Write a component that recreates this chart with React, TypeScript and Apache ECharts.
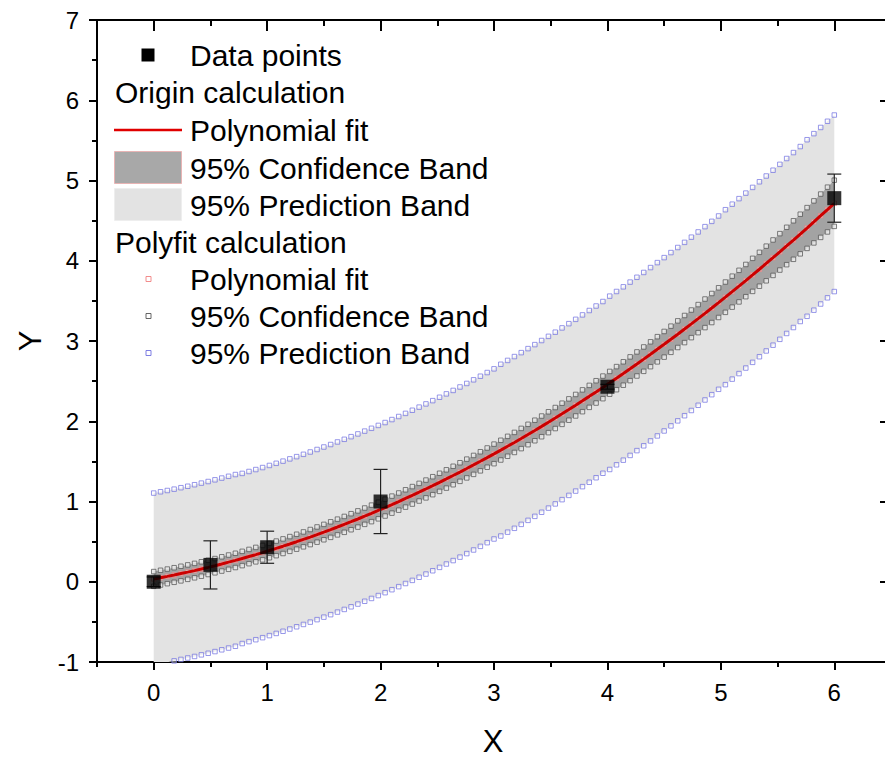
import React, { useEffect, useRef } from "react";
import * as echarts from "echarts";

// ---- measured data points ----
const DATA_X = [0, 0.5, 1, 2, 4, 6];
const DATA_Y = [0, 0.21, 0.43, 1.0, 2.43, 4.78];
const DATA_ERR = [0.06, 0.3, 0.2, 0.4, 0.03, 0.3];

// ---- fit curve grid ----
const X = [
  0, 0.06, 0.12, 0.18, 0.24, 0.3, 0.36, 0.42, 0.48, 0.54,
  0.6, 0.66, 0.72, 0.78, 0.84, 0.9, 0.96, 1.02, 1.08, 1.14,
  1.2, 1.26, 1.32, 1.38, 1.44, 1.5, 1.56, 1.62, 1.68, 1.74,
  1.8, 1.86, 1.92, 1.98, 2.04, 2.1, 2.16, 2.22, 2.28, 2.34,
  2.4, 2.46, 2.52, 2.58, 2.64, 2.7, 2.76, 2.82, 2.88, 2.94,
  3, 3.06, 3.12, 3.18, 3.24, 3.3, 3.36, 3.42, 3.48, 3.54,
  3.6, 3.66, 3.72, 3.78, 3.84, 3.9, 3.96, 4.02, 4.08, 4.14,
  4.2, 4.26, 4.32, 4.38, 4.44, 4.5, 4.56, 4.62, 4.68, 4.74,
  4.8, 4.86, 4.92, 4.98, 5.04, 5.1, 5.16, 5.22, 5.28, 5.34,
  5.4, 5.46, 5.52, 5.58, 5.64, 5.7, 5.76, 5.82, 5.88, 5.94,
  6,
];
const FIT = [
  0.035, 0.051, 0.067, 0.084, 0.102, 0.12, 0.139, 0.159, 0.179, 0.2,
  0.222, 0.244, 0.266, 0.29, 0.314, 0.338, 0.363, 0.389, 0.416, 0.443,
  0.471, 0.499, 0.528, 0.557, 0.588, 0.619, 0.65, 0.682, 0.715, 0.748,
  0.782, 0.817, 0.852, 0.888, 0.924, 0.961, 0.999, 1.038, 1.077, 1.116,
  1.156, 1.197, 1.239, 1.281, 1.324, 1.367, 1.411, 1.456, 1.501, 1.547,
  1.593, 1.64, 1.688, 1.736, 1.785, 1.835, 1.885, 1.936, 1.988, 2.04,
  2.093, 2.146, 2.2, 2.255, 2.31, 2.366, 2.422, 2.479, 2.537, 2.595,
  2.654, 2.714, 2.774, 2.835, 2.897, 2.959, 3.022, 3.085, 3.149, 3.214,
  3.279, 3.345, 3.411, 3.478, 3.546, 3.615, 3.684, 3.753, 3.824, 3.894,
  3.966, 4.038, 4.111, 4.184, 4.258, 4.333, 4.408, 4.484, 4.561, 4.638,
  4.716,
];
const CONF_HALF = [
  0.092, 0.092, 0.091, 0.091, 0.091, 0.09, 0.09, 0.09, 0.089, 0.089,
  0.089, 0.089, 0.089, 0.089, 0.089, 0.09, 0.09, 0.09, 0.091, 0.091,
  0.092, 0.093, 0.093, 0.094, 0.095, 0.096, 0.097, 0.098, 0.099, 0.1,
  0.101, 0.102, 0.103, 0.104, 0.105, 0.106, 0.107, 0.108, 0.109, 0.11,
  0.111, 0.112, 0.113, 0.114, 0.115, 0.116, 0.117, 0.118, 0.119, 0.12,
  0.122, 0.123, 0.124, 0.125, 0.126, 0.127, 0.128, 0.129, 0.13, 0.131,
  0.132, 0.133, 0.134, 0.136, 0.137, 0.139, 0.141, 0.142, 0.144, 0.146,
  0.148, 0.15, 0.152, 0.155, 0.157, 0.16, 0.163, 0.166, 0.169, 0.172,
  0.175, 0.178, 0.181, 0.185, 0.189, 0.193, 0.197, 0.201, 0.206, 0.211,
  0.216, 0.221, 0.227, 0.233, 0.24, 0.247, 0.254, 0.262, 0.27, 0.279,
  0.288,
];
const PRED_HALF = [
  1.07, 1.07, 1.07, 1.07, 1.07, 1.07, 1.07, 1.07, 1.07, 1.07,
  1.07, 1.07, 1.07, 1.06, 1.06, 1.06, 1.06, 1.06, 1.06, 1.06,
  1.06, 1.06, 1.06, 1.06, 1.06, 1.06, 1.06, 1.06, 1.06, 1.06,
  1.06, 1.06, 1.06, 1.06, 1.06, 1.06, 1.06, 1.06, 1.06, 1.06,
  1.06, 1.06, 1.06, 1.06, 1.06, 1.06, 1.06, 1.06, 1.06, 1.06,
  1.06, 1.07, 1.07, 1.07, 1.07, 1.07, 1.07, 1.07, 1.07, 1.07,
  1.07, 1.07, 1.07, 1.07, 1.07, 1.07, 1.07, 1.08, 1.08, 1.08,
  1.08, 1.08, 1.08, 1.08, 1.08, 1.08, 1.08, 1.08, 1.08, 1.08,
  1.08, 1.08, 1.08, 1.08, 1.09, 1.09, 1.09, 1.09, 1.09, 1.09,
  1.09, 1.09, 1.09, 1.09, 1.09, 1.09, 1.1, 1.1, 1.1, 1.1,
  1.1,
];

const X_MAJOR = [0, 1, 2, 3, 4, 5, 6];
const X_MINOR = [-0.5, 0.5, 1.5, 2.5, 3.5, 4.5, 5.5, 6.5];

const FONT = '"Liberation Sans", Arial, sans-serif';

const CONF_U = FIT.map((v, i) => v + CONF_HALF[i]);
const CONF_L = FIT.map((v, i) => v - CONF_HALF[i]);
const PRED_U = FIT.map((v, i) => v + PRED_HALF[i]);
const PRED_L = FIT.map((v, i) => v - PRED_HALF[i]);

const pairs = (ys: number[]) => X.map((x, i) => [x, ys[i]]);

function bandSeries(upper: number[], lower: number[], fill: string, z: number) {
  return {
    type: "custom",
    xAxisIndex: 0,
    yAxisIndex: 0,
    clip: true,
    z,
    silent: true,
    data: [[X[0], upper[0]]],
    encode: { x: 0, y: 1 },
    renderItem: (params: any, api: any) => {
      const pts: number[][] = [];
      for (let i = 0; i < X.length; i++) pts.push(api.coord([X[i], upper[i]]));
      for (let i = X.length - 1; i >= 0; i--) pts.push(api.coord([X[i], lower[i]]));
      return { type: "polygon", shape: { points: pts }, style: { fill, stroke: "none" } };
    },
  };
}

function markerSeries(ys: number[], stroke: string, fill: string, z: number) {
  return {
    type: "scatter",
    xAxisIndex: 0,
    yAxisIndex: 0,
    z,
    silent: true,
    clip: true,
    symbol: "rect",
    symbolSize: 4.5,
    itemStyle: { color: fill, borderColor: stroke, borderWidth: 0.9 },
    data: pairs(ys),
  };
}

const TEXT_SIZE = 30;
const LX_ITEM = 190;
const LX_HEAD = 115;
const rowY = [55, 92, 130, 168, 205, 242, 279, 316, 353];

function legendText(text: string, x: number, y: number) {
  return {
    type: "text",
    x,
    y,
    z: 100,
    style: { text, fontSize: TEXT_SIZE, fontFamily: FONT, fill: "#000", align: "left", verticalAlign: "middle" },
  };
}
function smallSquare(y: number, stroke: string) {
  return {
    type: "rect",
    z: 100,
    shape: { x: 146, y: y - 2.5, width: 5, height: 5 },
    style: { fill: "#fff", stroke, lineWidth: 0.9 },
  };
}

const graphic = [
  { type: "rect", z: 100, shape: { x: 141.5, y: rowY[0] - 6.5, width: 13, height: 13 }, style: { fill: "#000" } },
  legendText("Data points", LX_ITEM, rowY[0]),
  legendText("Origin calculation", LX_HEAD, rowY[1]),
  { type: "line", z: 100, shape: { x1: 114, y1: rowY[2], x2: 182, y2: rowY[2] }, style: { stroke: "#e00000", lineWidth: 2.5 } },
  legendText("Polynomial fit", LX_ITEM, rowY[2]),
  { type: "rect", z: 100, shape: { x: 114.5, y: 151.5, width: 67, height: 32 }, style: { fill: "#a8a8a8", stroke: "#e8b4b4", lineWidth: 1 } },
  legendText("95% Confidence Band", LX_ITEM, rowY[3]),
  { type: "rect", z: 100, shape: { x: 114.5, y: 188.5, width: 67, height: 32 }, style: { fill: "#e3e3e3", stroke: "#eeeeee", lineWidth: 1 } },
  legendText("95% Prediction Band", LX_ITEM, rowY[4]),
  legendText("Polyfit calculation", LX_HEAD, rowY[5]),
  smallSquare(rowY[6], "#f08080"),
  legendText("Polynomial fit", LX_ITEM, rowY[6]),
  smallSquare(rowY[7], "#555555"),
  legendText("95% Confidence Band", LX_ITEM, rowY[7]),
  smallSquare(rowY[8], "#7070e0"),
  legendText("95% Prediction Band", LX_ITEM, rowY[8]),
  {
    type: "text",
    x: 493,
    y: 741,
    z: 100,
    style: { text: "X", fontSize: 31, fontFamily: FONT, fill: "#000", align: "center", verticalAlign: "middle" },
  },
  {
    type: "text",
    x: 30,
    y: 341,
    rotation: Math.PI / 2,
    z: 100,
    style: { text: "Y", fontSize: 31, fontFamily: FONT, fill: "#000", align: "center", verticalAlign: "middle" },
  },
];

const axisLine = { show: true, onZero: false, lineStyle: { color: "#000", width: 2 } };
const noLine = { show: false, onZero: false };

const option: any = {
  animation: false,
  backgroundColor: "#fff",
  grid: { left: 97, top: 20, width: 794, height: 642, containLabel: false, outerBoundsMode: "none" },
  xAxis: [
    {
      type: "value",
      position: "bottom",
      min: -0.5,
      max: 6.5,
      axisLine,
      splitLine: { show: false },
      axisTick: { show: true, customValues: X_MAJOR, length: 8, lineStyle: { color: "#000", width: 2 } },
      axisLabel: { show: true, customValues: X_MAJOR, fontSize: 24, fontFamily: FONT, color: "#000", margin: 18 },
    },
    {
      type: "value",
      position: "bottom",
      min: -0.5,
      max: 6.5,
      axisLine: noLine,
      splitLine: { show: false },
      axisTick: { show: true, customValues: X_MINOR, length: 5, lineStyle: { color: "#000", width: 2 } },
      axisLabel: { show: false, customValues: X_MINOR },
    },
    {
      type: "value",
      position: "top",
      min: -0.5,
      max: 6.5,
      axisLine,
      splitLine: { show: false },
      axisTick: { show: true, inside: true, customValues: X_MAJOR, length: 11, lineStyle: { color: "#000", width: 2 } },
      axisLabel: { show: false, customValues: X_MAJOR },
    },
    {
      type: "value",
      position: "top",
      min: -0.5,
      max: 6.5,
      axisLine: noLine,
      splitLine: { show: false },
      axisTick: { show: true, inside: true, customValues: X_MINOR, length: 6, lineStyle: { color: "#000", width: 2 } },
      axisLabel: { show: false, customValues: X_MINOR },
    },
  ],
  yAxis: [
    {
      type: "value",
      position: "left",
      min: -1,
      max: 7,
      interval: 1,
      axisLine,
      splitLine: { show: false },
      axisTick: { show: true, length: 8, lineStyle: { color: "#000", width: 2 } },
      minorTick: { show: true, splitNumber: 2, length: 5, lineStyle: { color: "#000", width: 2 } },
      minorSplitLine: { show: false },
      axisLabel: { fontSize: 24, fontFamily: FONT, color: "#000", margin: 18 },
    },
    {
      type: "value",
      position: "right",
      min: -1,
      max: 7,
      interval: 1,
      axisLine,
      splitLine: { show: false },
      axisTick: { show: true, inside: true, length: 11, lineStyle: { color: "#000", width: 2 } },
      minorTick: { show: true, splitNumber: 2, length: 6, lineStyle: { color: "#000", width: 2 } },
      minorSplitLine: { show: false },
      axisLabel: { show: false },
    },
  ],
  graphic,
  series: [
    bandSeries(PRED_U, PRED_L, "#e3e3e3", 1),
    bandSeries(CONF_U, CONF_L, "#a3a3a3", 2),
    markerSeries(PRED_U, "#7070e0", "rgba(255,255,255,0.5)", 3),
    markerSeries(PRED_L, "#7070e0", "rgba(255,255,255,0.5)", 3),
    markerSeries(CONF_U, "#505050", "#e6e6e6", 3),
    markerSeries(CONF_L, "#505050", "#e6e6e6", 3),
    markerSeries(FIT, "#f08080", "rgba(255,255,255,0.5)", 3),
    {
      type: "line",
      xAxisIndex: 0,
      yAxisIndex: 0,
      z: 4,
      silent: true,
      showSymbol: false,
      symbol: "none",
      lineStyle: { color: "#cc0000", width: 3 },
      data: pairs(FIT),
    },
    {
      type: "custom",
      xAxisIndex: 0,
      yAxisIndex: 0,
      z: 5,
      silent: true,
      clip: true,
      data: DATA_X.map((x, i) => [x, DATA_Y[i], DATA_ERR[i]]),
      encode: { x: 0, y: 1 },
      renderItem: (params: any, api: any) => {
        const x = api.value(0);
        const y = api.value(1);
        const e = api.value(2);
        const top = api.coord([x, y + e]);
        const bot = api.coord([x, y - e]);
        const hw = 7;
        const style = { stroke: "#222", lineWidth: 1.2 };
        return {
          type: "group",
          children: [
            { type: "line", shape: { x1: top[0], y1: top[1], x2: bot[0], y2: bot[1] }, style },
            { type: "line", shape: { x1: top[0] - hw, y1: top[1], x2: top[0] + hw, y2: top[1] }, style },
            { type: "line", shape: { x1: bot[0] - hw, y1: bot[1], x2: bot[0] + hw, y2: bot[1] }, style },
          ],
        };
      },
    },
    {
      type: "scatter",
      xAxisIndex: 0,
      yAxisIndex: 0,
      z: 6,
      silent: true,
      symbol: "rect",
      symbolSize: 14,
      itemStyle: { color: "#000" },
      data: DATA_X.map((x, i) => [x, DATA_Y[i]]),
    },
  ],
};

export default function App() {
  const ref = useRef<HTMLDivElement>(null);
  useEffect(() => {
    if (!ref.current) return;
    const chart = echarts.init(ref.current, null, { renderer: "svg" });
    chart.setOption(option);
    return () => chart.dispose();
  }, []);
  return (
    <div
      ref={ref}
      style={{ position: "absolute", left: 0, top: 0, width: 885, height: 760, background: "#fff" }}
    />
  );
}
